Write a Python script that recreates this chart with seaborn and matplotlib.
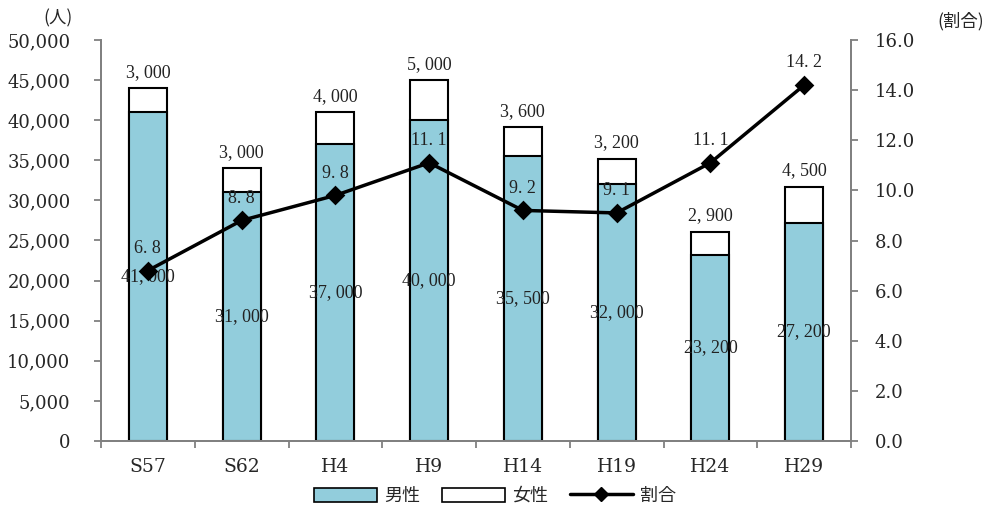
import matplotlib
matplotlib.use("Agg")
import matplotlib.pyplot as plt
import seaborn as sns
import pandas as pd
from matplotlib.patches import Patch
from matplotlib.lines import Line2D
from matplotlib.ticker import FuncFormatter, FixedLocator

# Survey years and values
years = ["S57", "S62", "H4", "H9", "H14", "H19", "H24", "H29"]
male = [41000, 31000, 37000, 40000, 35500, 32000, 23200, 27200]
female = [3000, 3000, 4000, 5000, 3600, 3200, 2900, 4500]
ratio = [6.8, 8.8, 9.8, 11.1, 9.2, 9.1, 11.1, 14.2]

sns.set_theme(style="white")
plt.rcParams["font.family"] = ["DejaVu Serif", "Noto Sans CJK JP"]

df = pd.DataFrame({"year": years, "male": male, "female": female, "ratio": ratio})
df["total"] = df["male"] + df["female"]

BLUE = "#92CDDC"
GRAY = "#808080"
CJK = ["Noto Sans CJK JP", "DejaVu Sans"]
LBL = ["Liberation Serif", "Noto Sans CJK JP"]

fig = plt.figure(figsize=(9.93, 5.08), dpi=100)
ax = fig.add_axes([101 / 993, 1 - 441 / 508, 750 / 993, 401 / 508])

# stacked bars: total (女性 on top) drawn first, 男性 drawn over it
sns.barplot(data=df, x="year", y="total", ax=ax, color="white", width=0.405,
            edgecolor="black", linewidth=1.5, saturation=1)
sns.barplot(data=df, x="year", y="male", ax=ax, color=BLUE, width=0.405,
            edgecolor="black", linewidth=1.5, saturation=1)

ax.set_ylim(0, 50000)
ax.set_xlim(-0.5, len(years) - 0.5)
ax.set_yticks(range(0, 50001, 5000))
ax.yaxis.set_major_formatter(FuncFormatter(lambda v, p: f"{int(v):,}"))
ax.set_xlabel("")
ax.set_ylabel("")

for sp in ["left", "bottom", "right"]:
    ax.spines[sp].set_color(GRAY)
    ax.spines[sp].set_linewidth(1.3)
ax.spines["top"].set_visible(False)

ax.tick_params(axis="y", which="major", direction="out", length=5, width=1.3,
               color=GRAY, pad=17, labelsize=13, left=True)
ax.tick_params(axis="x", which="major", length=0, pad=12, labelsize=13.5)
ax.xaxis.set_minor_locator(FixedLocator([i - 0.5 for i in range(len(years) + 1)]))
ax.tick_params(axis="x", which="minor", direction="out", length=5, width=1.3,
               color=GRAY, bottom=True)

# value labels on the bars
for i, (m, f) in enumerate(zip(male, female)):
    ax.text(i, m / 2, f"{m:,}".replace(",", ", "), ha="center", va="center",
            fontsize=13, family=LBL, color="#222222")
    ax.text(i, m + f + 900, f"{f:,}".replace(",", ", "), ha="center", va="bottom",
            fontsize=13, family=LBL, color="#222222")

# ratio line on the secondary axis
ax2 = ax.twinx()
sns.pointplot(data=df, x="year", y="ratio", ax=ax2, color="black", marker="D",
              markersize=8, linewidth=2.5, errorbar=None)
ax2.set_ylim(0, 16)
ax2.set_xlim(-0.5, len(years) - 0.5)
ax2.set_yticks([0, 2, 4, 6, 8, 10, 12, 14, 16])
ax2.yaxis.set_major_formatter(FuncFormatter(lambda v, p: f"{v:.1f}"))
ax2.set_ylabel("")
ax2.set_xlabel("")
for sp in ["left", "bottom", "right"]:
    ax2.spines[sp].set_color(GRAY)
    ax2.spines[sp].set_linewidth(1.3)
ax2.spines["top"].set_visible(False)
ax2.tick_params(axis="y", direction="out", length=5, width=1.3, color=GRAY,
                pad=12, labelsize=13, right=True)

for i, r in enumerate(ratio):
    ax2.text(i, r + 0.55, f"{r:.1f}".replace(".", ". "), ha="center", va="bottom",
             fontsize=13, family=LBL, color="#222222")

# unit captions
fig.text(58 / 993, 1 - 18 / 508, "(人)", ha="center", va="center",
         fontsize=12.5, family=CJK)
fig.text(961 / 993, 1 - 21 / 508, "(割合)", ha="center", va="center",
         fontsize=12.5, family=CJK)

handles = [
    Patch(facecolor=BLUE, edgecolor="black", linewidth=1.2, label="男性"),
    Patch(facecolor="white", edgecolor="black", linewidth=1.2, label="女性"),
    Line2D([0], [0], color="black", linewidth=2.5, marker="D", markersize=7,
           label="割合"),
]
fig.legend(handles=handles, loc="center", bbox_to_anchor=(495 / 993, 1 - 496 / 508),
           ncol=3, frameon=False, prop={"family": CJK, "size": 13},
           handlelength=3.5, handleheight=0.8, columnspacing=1.2, handletextpad=0.4)

fig.savefig("out.png", dpi=100)
